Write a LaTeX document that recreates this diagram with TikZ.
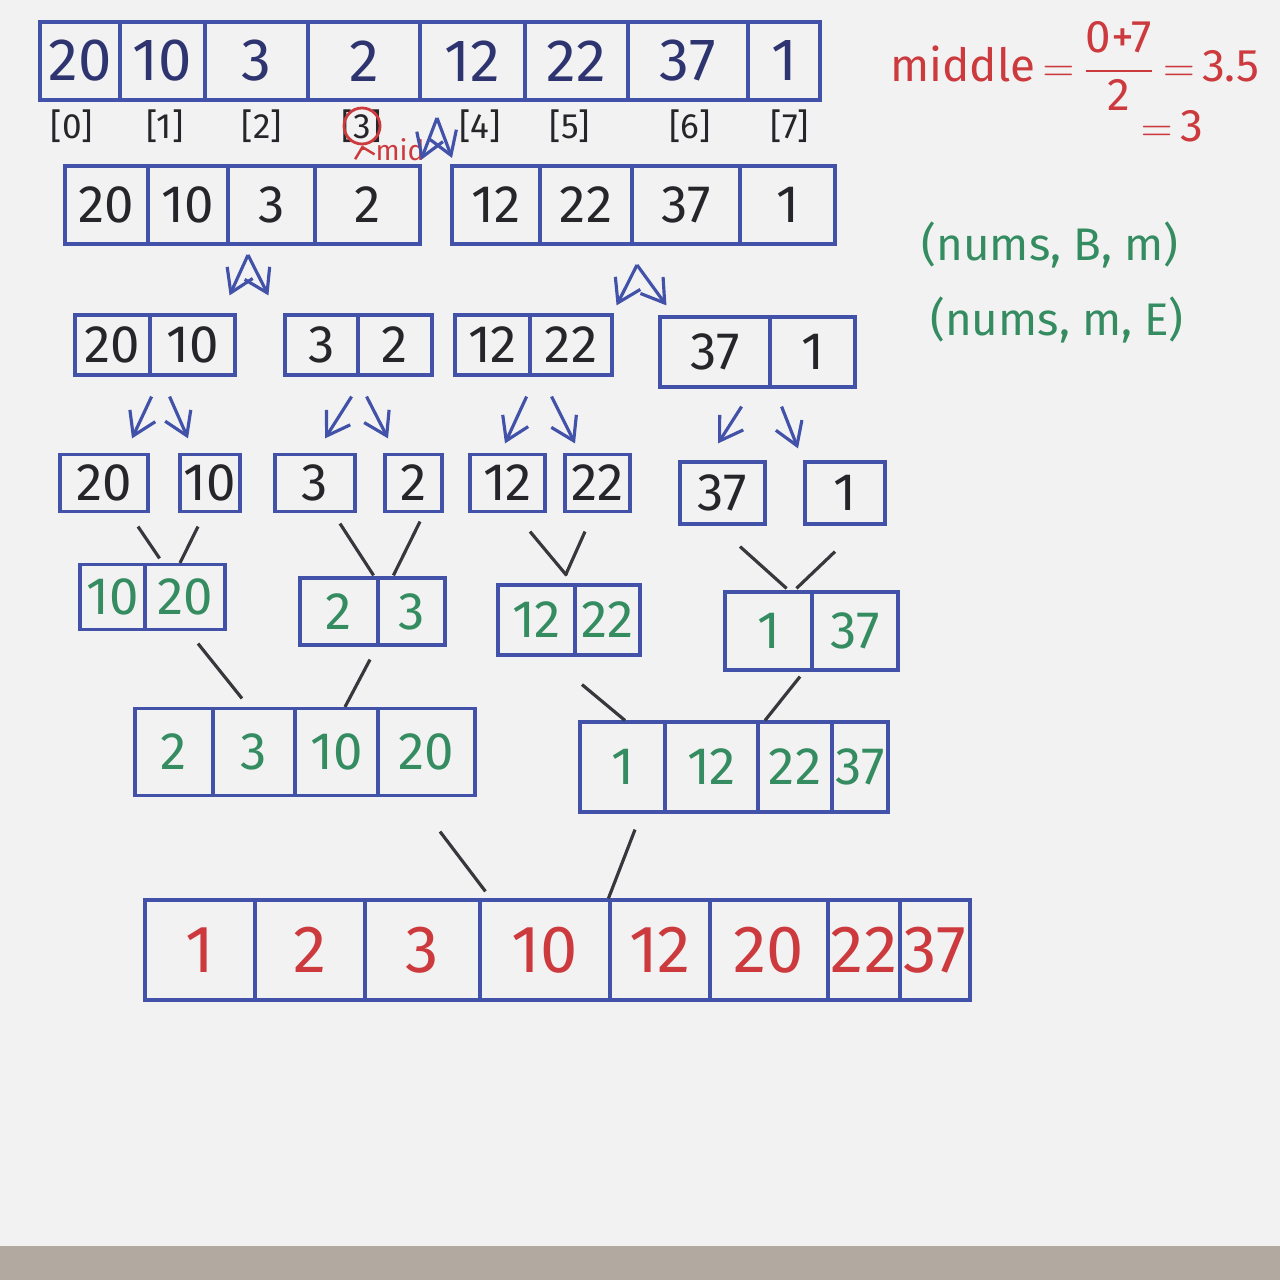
\documentclass[tikz,border=0pt]{standalone}
\usepackage{amsmath}
\usepackage{fontspec}
\setmainfont{Fira Sans}
\usetikzlibrary{arrows.meta}
\definecolor{paper}{RGB}{242,242,243}
\definecolor{desk}{RGB}{178,170,160}
\definecolor{inkblue}{RGB}{66,82,168}
\definecolor{inknavy}{RGB}{45,52,112}
\definecolor{inkblack}{RGB}{38,38,42}
\definecolor{inkgreen}{RGB}{52,140,96}
\definecolor{inkred}{RGB}{204,58,62}
\definecolor{inkgrey}{RGB}{55,55,60}

\begin{document}
\begin{tikzpicture}[x=0.01cm, y=-0.01cm, >={Straight Barb[length=2.2mm,width=2.8mm]},
  cell/.style={draw=inkblue, line width=0.9pt, inner sep=0pt, font=\fontsize{15}{17}\selectfont},
  split/.style={->, inkblue, line width=0.9pt},
  merge/.style={draw=inkgrey, line width=0.9pt},
  anno/.style={font=\fontsize{13}{15}\selectfont}]

  % sheet of paper
  \useasboundingbox (0,0) rectangle (1280,1280);
  \fill[paper] (0,0) rectangle (1280,1280);
  \fill[desk] (0,1246) rectangle (1280,1280);

  % whole array with its indices
  \foreach \xc/\w/\v [count=\i from 0] in {80/80/20, 162.5/85/10, 256.5/103/3, 364/112/2, 472.5/105/12, 576.5/103/22, 688/120/37, 784/72/1}
    \node[cell, text=inknavy, font=\fontsize{17}{19}\selectfont, minimum width=\w*0.01cm, minimum height=0.78cm] (a\i) at (\xc,61) {\v};
  \foreach \xc [count=\i from 0] in {72,165,262,362,480,570,690,790}
    \node[font=\fontsize{10}{12}\selectfont, text=inkblack] (idx\i) at (\xc,126) {[\i]};
  \node[circle, draw=inkred, line width=0.8pt, minimum size=0.36cm, inner sep=0pt] (midring) at (idx3) {};
  \node[font=\fontsize{8}{9}\selectfont, text=inkred] (midtag) at (400,150) {mid};
  \draw[->, inkred, line width=0.7pt, >={Straight Barb[length=1mm]}] (midtag.west) -- (midring.south);

  \coordinate (s0) at (437,118);
  \draw[split] (s0) -- (421,160);
  \draw[split] (s0) -- (452,158);

  % halves
  \foreach \xc/\w/\v [count=\i from 0] in {106.5/83/20, 188/80/10, 271.5/87/3, 367.5/105/2, 496/88/12, 586/92/22, 686/108/37, 787.5/95/1}
    \node[cell, text=inkblack, minimum width=\w*0.01cm, minimum height=0.78cm] (b\i) at (\xc,205) {\v};

  \coordinate (s1) at (248,255);
  \coordinate (s2) at (637,265);

  % quarters
  \foreach \xc/\yc/\w/\h/\v [count=\i from 0] in {112.5/345/75/60/20, 192.5/345/85/60/10, 321.5/345/73/60/3, 395/345/74/60/2, 492.5/345/75/60/12, 571/345/82/60/22, 715/352/110/70/37, 812.5/352/85/70/1}
    \node[cell, text=inkblack, minimum width=\w*0.01cm, minimum height=\h*0.01cm] (c\i) at (\xc,\yc) {\v};

  \draw[split] (s1) -- ([shift={(-7,-18)}]c1.north east);
  \draw[split] (s1) -- ([shift={(-15,-18)}]c2.north west);
  \draw[split] (s2) -- ([shift={(3,-8)}]c5.north east);
  \draw[split] (s2) -- ([shift={(8,-10)}]c6.north west);

  % single elements
  \foreach \xc/\yc/\w/\h/\v [count=\i from 0] in {104/483/88/57/20, 210/483/60/57/10, 315/483/80/57/3, 413.5/483/57/57/2, 507.5/483/75/57/12, 597.5/483/65/57/22, 722.5/493/85/62/37, 845/493/80/62/1}
    \node[cell, text=inkblack, minimum width=\w*0.01cm, minimum height=\h*0.01cm] (d\i) at (\xc,\yc) {\v};

  \draw[split] ([shift={(0,20)}]c0.south east) -- ([shift={(28,-14.5)}]d0.north);
  \draw[split] ([shift={(18,20)}]c0.south east) -- ([shift={(-22,-14.5)}]d1.north);
  \draw[split] ([shift={(-8,20)}]c2.south east) -- ([shift={(10,-14.5)}]d2.north);
  \draw[split] ([shift={(7,20)}]c2.south east) -- ([shift={(-25.5,-14.5)}]d3.north);
  \draw[split] ([shift={(-5,20)}]c4.south east) -- ([shift={(-2.5,-9.5)}]d4.north);
  \draw[split] ([shift={(20,20)}]c4.south east) -- ([shift={(-22.5,-9.5)}]d5.north);
  \draw[split] ([shift={(-30,18)}]c6.south east) -- ([shift={(-4.5,-17)}]d6.north);
  \draw[split] ([shift={(10,18)}]c6.south east) -- ([shift={(-47,-12)}]d7.north);

  % merged pairs
  \foreach \xc/\yc/\w/\h/\v [count=\i from 0] in {112.5/597/65/65/10, 185/597/80/65/20, 339/611.5/78/67/2, 411.5/611.5/67/67/3, 536.5/620/77/70/12, 607.5/620/65/70/22, 768.5/631/87/78/1, 855/631/86/78/37}
    \node[cell, text=inkgreen, minimum width=\w*0.01cm, minimum height=\h*0.01cm] (e\i) at (\xc,\yc) {\v};

  \draw[merge] ([shift={(34,13.5)}]d0.south) -- ([shift={(13,-4.5)}]e0.north east);
  \draw[merge] ([shift={(-12,13.5)}]d1.south) -- ([shift={(-5,0)}]e1.north);
  \draw[merge] ([shift={(25,10.5)}]d2.south) -- ([shift={(-6,-1)}]e2.north east);
  \draw[merge] ([shift={(6.5,8.5)}]d3.south) -- ([shift={(17,-1)}]e3.north west);
  \draw[merge] ([shift={(22.5,18.5)}]d4.south) -- ([shift={(-10,-8)}]e4.north east);
  \draw[merge] ([shift={(-12.5,18.5)}]d5.south) -- ([shift={(-8,-8)}]e5.north west);
  \draw[merge] ([shift={(17.5,21)}]d6.south) -- ([shift={(-27,-2)}]e6.north east);
  \draw[merge] ([shift={(-10,26)}]d7.south) -- ([shift={(-14,-2)}]e7.north west);

  % merged quarters
  \foreach \xc/\yc/\w/\h/\v [count=\i from 0] in {174/752/78/87/2, 254/752/82/87/3, 336.5/752/83/87/10, 426.5/752/97/87/20, 622.5/767/85/90/1, 711.5/767/93/90/12, 795/767/74/90/22, 860/767/56/90/37}
    \node[cell, text=inkgreen, minimum width=\w*0.01cm, minimum height=\h*0.01cm] (f\i) at (\xc,\yc) {\v};

  \draw[merge] ([shift={(13,12.5)}]e1.south) -- ([shift={(-12,-8.5)}]f1.north);
  \draw[merge] ([shift={(31,13)}]e2.south) -- ([shift={(8.5,0)}]f2.north);
  \draw[merge] ([shift={(45.5,28)}]e4.south) -- ([shift={(2.5,0)}]f4.north);
  \draw[merge] ([shift={(31.5,5)}]e6.south) -- ([shift={(-30,0)}]f6.north);

  % sorted array
  \foreach \xc/\w/\v [count=\i from 0] in {200/110/1, 310/110/2, 422.5/115/3, 545/130/10, 660/100/12, 769/118/20, 864/72/22, 935/70/37}
    \node[cell, text=inkred, font=\fontsize{19}{21}\selectfont, minimum width=\w*0.01cm, minimum height=1cm] (g\i) at (\xc,950) {\v};

  \draw[merge] ([shift={(13.5,34.5)}]f3.south) -- ([shift={(7,-7)}]g3.north west);
  \draw[merge] ([shift={(12.5,16)}]f4.south) -- (g4.north west);

  % notes on the right
  \node[anno, text=inkred, anchor=west] (midform) at (878,66) {middle$\,{=}\,\dfrac{\text{0+7}}{\text{2}}\,{=}\,$3.5};
  \node[anno, text=inkred] (midres) at (1172,126) {$=$\,3};
  \node[anno, text=inkgreen] (callL) at (1050,245) {(nums, B, m)};
  \node[anno, text=inkgreen] (callR) at (1057,320) {(nums, m, E)};
\end{tikzpicture}
\end{document}
